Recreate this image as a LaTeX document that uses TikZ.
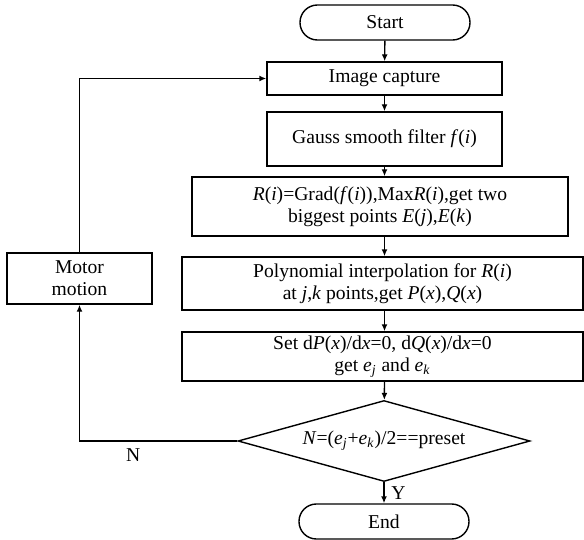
\documentclass[tikz,border=0pt]{standalone}
\usepackage{fontspec}
\setmainfont{Liberation Serif}
\usepackage{tikz}
\usetikzlibrary{arrows.meta,shapes.geometric}

\begin{document}
\begin{tikzpicture}[x=0.5pt,y=-0.5pt,>={Latex[length=3.5pt,width=3pt]},line width=0.7pt,
  font=\fontsize{9.8}{11}\selectfont,
  box/.style={draw,align=center,inner sep=1pt},
  term/.style={draw,rounded corners=8.7pt,minimum width=85pt,minimum height=17.5pt}]
\useasboundingbox (0,0) rectangle (584,540);
\node[term] (start) at (385,22.5) {Start};
\node[box,minimum width=117.5pt,minimum height=16.5pt] (capture) at (384.5,78.5) {Image capture};
\node[box,minimum width=117.5pt,minimum height=27pt] (gauss) at (384.5,139) {Gauss smooth filter \textit{f}(\textit{i})};
\node[box,minimum width=188pt,minimum height=29.5pt] (grad) at (380,206.5) {\textit{R}(\textit{i})=Grad(\textit{f}(\textit{i})),Max\textit{R}(\textit{i}),get two\\biggest points \textit{E}(\textit{j}),\textit{E}(\textit{k})};
\node[box,minimum width=200.5pt,minimum height=26.5pt] (poly) at (382.5,283.5) {Polynomial interpolation for \textit{R}(\textit{i})\\at \textit{j},\textit{k} points,get \textit{P}(\textit{x}),\textit{Q}(\textit{x})};
\node[box,minimum width=200.5pt,minimum height=24.5pt] (setd) at (382.5,356.5) {Set d\textit{P}(\textit{x})/d\textit{x}=0, d\textit{Q}(\textit{x})/d\textit{x}=0\\get \textit{e}\textsubscript{\textit{j}} and \textit{e}\textsubscript{\textit{k}}};
\node[draw,diamond,aspect=3.6,inner sep=0pt,minimum width=146pt,minimum height=40.5pt] (test) at (384,441) {\textit{N}=(\textit{e}\textsubscript{\textit{j}}+\textit{e}\textsubscript{\textit{k}})/2==preset};
\node[term] (finish) at (384,521.5) {End};
\node[box,minimum width=72.5pt,minimum height=25.5pt] (motor) at (79.5,278.5) {Motor\\motion};
\draw[->] (start) -- (capture);
\draw[->] (capture) -- (gauss);
\draw[->] (gauss) -- (gauss |- grad.north);
\draw[->] (gauss |- grad.south) -- (gauss |- poly.north);
\draw[->] (gauss |- poly.south) -- (gauss |- setd.north);
\draw[->] (gauss |- setd.south) -- (test);
\draw[->] (test) -- (finish) node[midway,right] {Y};
\draw[->] (test.west) -- (motor |- test) node[pos=.66,below] {N} -- (motor);
\draw[->] (motor) -- (motor |- capture) -- (capture);
\end{tikzpicture}
\end{document}
